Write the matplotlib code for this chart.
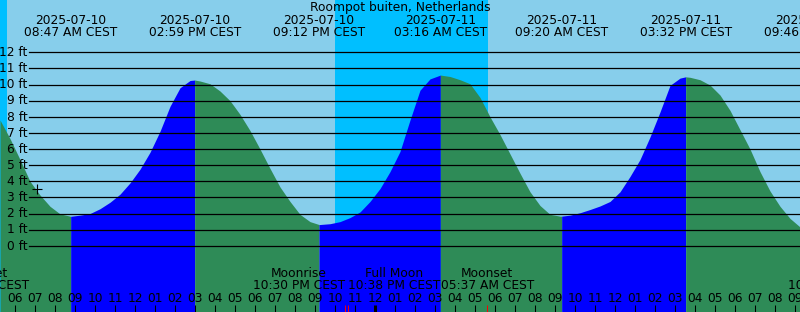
import matplotlib
matplotlib.use("Agg")
import matplotlib.pyplot as plt
from matplotlib.transforms import blended_transform_factory, offset_copy
import numpy as np

TITLE = "Roompot buiten, Netherlands"

# time axis: hours since 2025-07-10 00:00 CEST
view_start, view_end = 5.25, 45.25

# tide height (ft) every 30 minutes from 05:15 on 2025-07-10
curve_start_hour = 5.25
curve_step_hours = 0.5
curve_heights_ft = [
    7.8, 6.65, 5.35, 4.0, 3.15, 2.45, 1.98, 1.84, 1.9, 2.0,
    2.3, 2.7, 3.2, 3.9, 4.75, 5.8, 7.1, 8.65, 9.8, 10.25,
    10.22, 10.05, 9.6, 9.0, 8.15, 7.15, 6.0, 4.8, 3.65, 2.75,
    1.95, 1.5, 1.32, 1.37, 1.5, 1.75, 2.1, 2.75, 3.55, 4.6,
    5.85, 7.8, 9.65, 10.35, 10.58, 10.5, 10.3, 10.05, 9.2, 8.0,
    6.9, 5.7, 4.5, 3.35, 2.5, 1.95, 1.84, 1.9, 2.05, 2.25,
    2.47, 2.75, 3.35, 4.3, 5.35, 6.75, 8.3, 9.95, 10.4, 10.45,
    10.3, 9.97, 9.35, 8.4, 7.2, 6.0, 4.6, 3.4, 2.45, 1.7,
    1.17,
]

# high / low tides
extreme_hours = [8 + 47/60, 14 + 59/60, 21 + 12/60, 27 + 16/60,
                 33 + 20/60, 39 + 32/60, 45 + 46/60]
extreme_heights_ft = [1.83, 10.28, 1.32, 10.59, 1.84, 10.48, 1.1]
extreme_kinds = ["L", "H", "L", "H", "L", "H", "L"]
extreme_labels = [
    ("2025-07-10", "08:47 AM CEST"),
    ("2025-07-10", "02:59 PM CEST"),
    ("2025-07-10", "09:12 PM CEST"),
    ("2025-07-11", "03:16 AM CEST"),
    ("2025-07-11", "09:20 AM CEST"),
    ("2025-07-11", "03:32 PM CEST"),
    ("2025-07-11", "09:46 PM CEST"),
]

# moon events
moon_hours = [4 + 22/60, 22 + 30/60, 22 + 38/60, 29 + 37/60, 46 + 58/60]
moon_labels = [
    "Moonset\n04:22 AM CEST",
    "Moonrise\n10:30 PM CEST",
    "Full Moon\n10:38 PM CEST",
    "Moonset\n05:37 AM CEST",
    "Moonrise\n10:58 PM CEST",
]
moon_label_anchor = ["center", "right", "left", "center", "center"]

# night periods (sunset, sunrise)
nights = [(-2.0, 5 + 37/60), (22 + 0/60, 29 + 38/60)]

# hour ticks
tick_hours = list(range(6, 46))
tick_labels = ["%02d" % ((h % 12) or 12) for h in tick_hours]

grid_levels = list(range(0, 13))
grid_labels = ["%d ft" % v for v in grid_levels]

# colors
DAY = "#87CEEB"
NIGHT = "#00BFFF"
FLOOD = "#0000FF"
EBB = "#2E8B57"

W, H = 800, 312
fig = plt.figure(figsize=(W / 100, H / 100), dpi=100)
ax = fig.add_axes([0, 0, 1, 1])
ax.set_xlim(view_start, view_end)
ax.set_ylim(-4.105, 15.244)
ax.set_axis_off()
ax.add_patch(plt.Rectangle((0, 0), 1, 1, transform=ax.transAxes,
                           color=DAY, zorder=0))

for a, b in nights:
    ax.axvspan(a, b, color=NIGHT, lw=0, zorder=1)

# merge samples with extremes
curve_hours = curve_start_hour + curve_step_hours * np.arange(len(curve_heights_ft))
t_all = np.concatenate([curve_hours, extreme_hours])
h_all = np.concatenate([curve_heights_ft, extreme_heights_ft])
order = np.argsort(t_all)
t_all, h_all = t_all[order], h_all[order]

bottom = -4.105
prev = -100.0
for eh, kind in zip(extreme_hours, extreme_kinds):
    m = (t_all >= prev) & (t_all <= eh)
    col = FLOOD if kind == "H" else EBB
    ax.fill_between(t_all[m], bottom, h_all[m], color=col, lw=0, zorder=2)
    prev = eh

# grid lines
for lvl in grid_levels:
    ax.axhline(lvl, xmin=29 / W, xmax=1, color="black", lw=0.9, zorder=3)

FS = 8.86
font = dict(family="DejaVu Sans", fontsize=FS, color="black")

ylab_tr = offset_copy(blended_transform_factory(ax.transAxes, ax.transData),
                      fig=fig, x=0, y=-3.7, units="dots")
for lvl, lab in zip(grid_levels, grid_labels):
    ax.text(27.5 / W, lvl, lab, transform=ylab_tr, ha="right", va="baseline",
            zorder=5, **font)

xt = blended_transform_factory(ax.transData, ax.transAxes)


def fy(py):
    return 1 - py / H


ax.text(0.5, fy(10.7), TITLE, transform=ax.transAxes, ha="center",
        va="baseline", zorder=5, **font)

for eh, (d, tm) in zip(extreme_hours, extreme_labels):
    ax.text(eh, fy(24.0), d, transform=xt, ha="center", va="baseline",
            zorder=5, clip_on=False, **font)
    ax.text(eh, fy(36.0), tm, transform=xt, ha="center", va="baseline",
            zorder=5, clip_on=False, **font)

for mh, lab, anc in zip(moon_hours, moon_labels, moon_label_anchor):
    ax.text(mh, fy(289.3), lab, transform=xt, ha=anc, multialignment="center",
            va="baseline", linespacing=0.93, zorder=5, **font)

for th, tl in zip(tick_hours, tick_labels):
    ax.text(th, fy(301.7), tl, transform=xt, ha="center", va="baseline",
            zorder=5, **font)
    lw = 2.2 if th % 24 == 0 else 0.75
    ax.plot([th, th], [fy(305), fy(312)], transform=xt, color="black",
            lw=lw, zorder=4, solid_capstyle="butt")

for mh in moon_hours:
    ax.plot([mh, mh], [fy(305), fy(312)], transform=xt, color="red",
            lw=0.7, zorder=4, solid_capstyle="butt")

# current-time marker
ax.plot([7 + 7/60], [3.54], marker="+", color="black", ms=6.5, mew=0.8,
        zorder=6)

fig.savefig("out.png", dpi=100)
